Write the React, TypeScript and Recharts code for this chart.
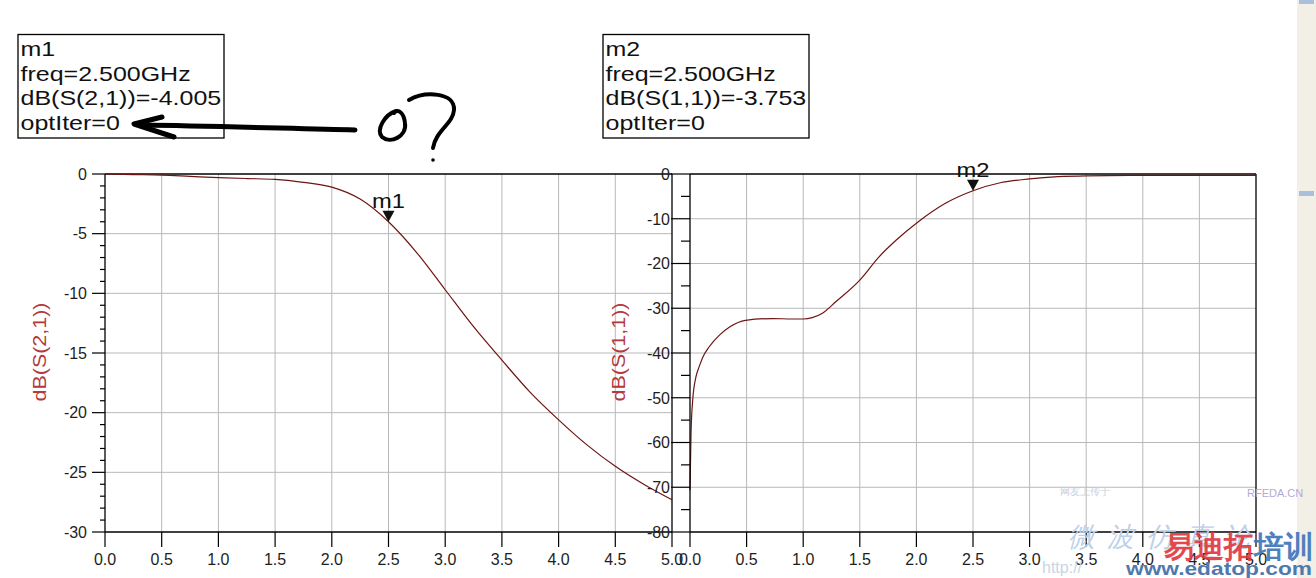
import React from 'react'
import { LineChart, Line, XAxis, YAxis, ReferenceLine, ReferenceDot } from 'recharts'

// frequency axis (GHz)
const freqTicks = [0, 0.5, 1, 1.5, 2, 2.5, 3, 3.5, 4, 4.5, 5]

// dB(S(2,1))
const s21Freq = [0, 0.25, 0.5, 0.75, 1.0, 1.25, 1.5, 1.75, 2.0, 2.25, 2.5, 2.75, 3.0, 3.25, 3.5, 3.75, 4.0, 4.25, 4.5, 4.75, 5.0]
const s21Db = [0, -0.05, -0.1, -0.2, -0.3, -0.38, -0.45, -0.7, -1.1, -2.1, -4.0, -6.6, -9.7, -12.8, -15.6, -18.3, -20.6, -22.7, -24.5, -26.0, -27.3]

// dB(S(1,1))
const s11Freq = [0, 0.009, 0.024, 0.053, 0.082, 0.11, 0.17, 0.26, 0.35, 0.49, 0.73, 0.9, 1.0, 1.08, 1.17, 1.29, 1.5, 1.67, 1.82, 2.0, 2.26, 2.5, 2.75, 3.0, 3.25, 3.5, 4.0, 4.5, 5.0]
const s11Db = [-70.6, -58, -50.5, -45.3, -43, -41.1, -38.6, -36, -34.2, -32.7, -32.3, -32.4, -32.4, -32.1, -31.1, -28.5, -23.7, -18.5, -14.8, -11.0, -6.5, -3.75, -1.9, -1.1, -0.6, -0.4, -0.3, -0.3, -0.3]

// y ticks: labelled majors, minors in between
const s21Majors = [0, -5, -10, -15, -20, -25, -30]
const s11Majors = [0, -10, -20, -30, -40, -50, -60, -70, -80]
const s21Minor = 1
const s11Minor = 5

// marker readouts
const m1 = { name: 'm1', freq: 2.5, db: -4.005, trace: 'dB(S(2,1))' }
const m2 = { name: 'm2', freq: 2.5, db: -3.753, trace: 'dB(S(1,1))' }

const FONT = '"Liberation Sans", Arial, sans-serif'
const TRACE = '#6e1414'
const GRID = '#b8b8b8'

const s21Data = s21Freq.map((f, i) => ({ f, v: s21Db[i] }))
const s11Data = s11Freq.map((f, i) => ({ f, v: s11Db[i] }))

function withMinors(majors: number[], step: number) {
  const lo = Math.min(...majors)
  const out: number[] = []
  for (let v = 0; v >= lo; v -= step) out.push(v)
  return out
}

function YTick(props: any) {
  const { x, y, payload, majors, majorLen, minorLen, gap } = props
  const v = payload.value
  const isMajor = majors.includes(v)
  const len = isMajor ? majorLen : minorLen
  return (
    <g>
      <line x1={x - len} x2={x} y1={y} y2={y} stroke="#000" strokeWidth={1.2} />
      {isMajor && (
        <text x={x - majorLen - gap} y={y} dy={5.8} textAnchor="end" fontSize={16} fontFamily={FONT} fill="#1e1e1e">
          {v === 0 ? '0' : String(v)}
        </text>
      )}
    </g>
  )
}

function XTick(props: any) {
  const { x, y, payload } = props
  return (
    <g>
      <line x1={x} x2={x} y1={y} y2={y + 15} stroke="#000" strokeWidth={1.2} />
      <text x={x} y={y + 33} textAnchor="middle" fontSize={16} fontFamily={FONT} fill="#1e1e1e">
        {payload.value.toFixed(1)}
      </text>
    </g>
  )
}

function Marker(props: any) {
  const { cx, cy, label } = props
  return (
    <g>
      <path d={`M${cx - 6} ${cy - 11} L${cx + 6} ${cy - 11} L${cx} ${cy} Z`} fill="#111" />
      <text x={cx} y={cy - 14} textAnchor="middle" fontSize={21} fontFamily={FONT} fill="#111" textLength={33} lengthAdjust="spacingAndGlyphs">
        {label}
      </text>
    </g>
  )
}

function Plot(props: any) {
  const { data, majors, minor, marker, left, width, margin, majorLen, minorLen, gap } = props
  const lo = Math.min(...majors)
  return (
    <div style={{ position: 'absolute', left, top: 0 }}>
      <LineChart width={width} height={578} data={data} margin={margin}>
        <XAxis
          dataKey="f"
          type="number"
          domain={[0, 5]}
          ticks={freqTicks}
          interval={0}
          height={30}
          tickSize={0}
          tickMargin={0}
          axisLine={{ stroke: '#000', strokeWidth: 1.3 }}
          tick={<XTick />}
        />
        <YAxis
          type="number"
          domain={[lo, 0]}
          ticks={withMinors(majors, minor)}
          interval={0}
          width={60}
          tickSize={0}
          tickMargin={0}
          axisLine={{ stroke: '#000', strokeWidth: 1.3 }}
          tick={<YTick majors={majors} majorLen={majorLen} minorLen={minorLen} gap={gap} />}
        />
        {freqTicks.slice(1, -1).map((f) => (
          <ReferenceLine key={'vx' + f} x={f} stroke={GRID} strokeWidth={1} />
        ))}
        {majors.slice(1, -1).map((v: number) => (
          <ReferenceLine key={'hy' + v} y={v} stroke={GRID} strokeWidth={1} />
        ))}
        <ReferenceLine y={0} stroke="#000" strokeWidth={1.3} />
        <ReferenceLine x={5} stroke="#000" strokeWidth={1.3} />
        <Line
          type="monotone"
          dataKey="v"
          stroke={TRACE}
          strokeWidth={1.2}
          dot={false}
          isAnimationActive={false}
        />
        <ReferenceDot x={marker.freq} y={marker.db} r={0} shape={(p: any) => <Marker {...p} label={marker.name} />} />
      </LineChart>
    </div>
  )
}

function ReadoutBox({ x, m }: { x: number; m: typeof m1 }) {
  const lines = [m.name, `freq=${m.freq.toFixed(3)}GHz`, `${m.trace}=${m.db.toFixed(3)}`, 'optIter=0']
  const base = [56, 81, 105, 130]
  return (
    <g>
      <rect x={x} y={34.5} width={206} height={103.5} fill="#fff" stroke="#000" strokeWidth={1.3} />
      <g transform={`translate(${x + 2.5},0) scale(1.19,1)`}>
        {lines.map((t, i) => (
          <text key={i} x={0} y={base[i]} fontSize={21} fontFamily={FONT} fill="#111">
            {t}
          </text>
        ))}
      </g>
    </g>
  )
}

export default function App() {
  return (
    <div style={{ position: 'absolute', left: 0, top: 0, width: 1316, height: 578, overflow: 'hidden', background: '#fff' }}>
      <Plot
        data={s21Data}
        majors={s21Majors}
        minor={s21Minor}
        marker={m1}
        left={0}
        width={700}
        margin={{ top: 174, right: 28, bottom: 16, left: 45 }}
        majorLen={13}
        minorLen={5}
        gap={5}
      />
      <Plot
        data={s11Data}
        majors={s11Majors}
        minor={s11Minor}
        marker={m2}
        left={600}
        width={716}
        margin={{ top: 174, right: 60, bottom: 16, left: 30 }}
        majorLen={19}
        minorLen={9}
        gap={1}
      />
      <svg width={1316} height={578} style={{ position: 'absolute', left: 0, top: 0, pointerEvents: 'none' }}>
        <ReadoutBox x={18} m={m1} />
        <ReadoutBox x={603} m={m2} />

        <text transform="translate(39,352) rotate(-90)" textAnchor="middle" dy={6.5} fontSize={19} fontFamily={FONT} fill="#b5383a" textLength={99} lengthAdjust="spacingAndGlyphs">
          dB(S(2,1))
        </text>
        <text transform="translate(618,352) rotate(-90)" textAnchor="middle" dy={6.5} fontSize={19} fontFamily={FONT} fill="#b5383a" textLength={99} lengthAdjust="spacingAndGlyphs">
          dB(S(1,1))
        </text>

        {/* hand-drawn note */}
        <g fill="none" stroke="#000" strokeLinecap="round" strokeLinejoin="round">
          <path d="M355 130 C300 129 220 126 140 125" strokeWidth={5} />
          <path d="M162 117 L134 124 L174 137" strokeWidth={5} />
          <path d="M396 111 C384 115 376 130 382 137 C390 144 407 137 405 123 C404 113 398 108 394 113" strokeWidth={4} />
          <path d="M409 100 C425 91 455 92 454 110 C453 124 436 130 433 148" strokeWidth={4} />
        </g>
        <circle cx={433} cy={160} r={1.8} fill="#000" />

        {/* scrollbar strip */}
        <rect x={1297} y={0} width={19} height={578} fill="#f2efe7" />
        <rect x={1299} y={0} width={15} height={4} fill="#a9bfdc" />
        <rect x={1299} y={191} width={15} height={5} fill="#a9bfdc" />

        {/* site watermark */}
        <text x={1060} y={495} fontSize={10} fill="#c3d1e2">网友上传于</text>
        <text x={1247} y={497} fontSize={11} fontFamily={FONT} fill="#b4a9d6">RFEDA.CN</text>
        <text x={1068} y={546} fontSize={27} fill="#bcd0e8" fontStyle="italic" letterSpacing={12}>微波仿真论</text>
        <text x={1164} y={557} fontSize={30} fontWeight="bold" fill="#e0393f" opacity={0.92}>易迪拓</text>
        <text x={1254} y={557} fontSize={30} fontWeight="bold" fill="#3d73b8" opacity={0.9}>培训</text>
        <text x={1042} y={573} fontSize={16} fontFamily={FONT} fill="#c9d5e4">http://</text>
        <text x={1126} y={575} fontSize={19} fontWeight="bold" fontFamily={FONT} fill="#4f79ad" textLength={186} lengthAdjust="spacingAndGlyphs">
          www.edatop.com
        </text>
      </svg>
    </div>
  )
}
